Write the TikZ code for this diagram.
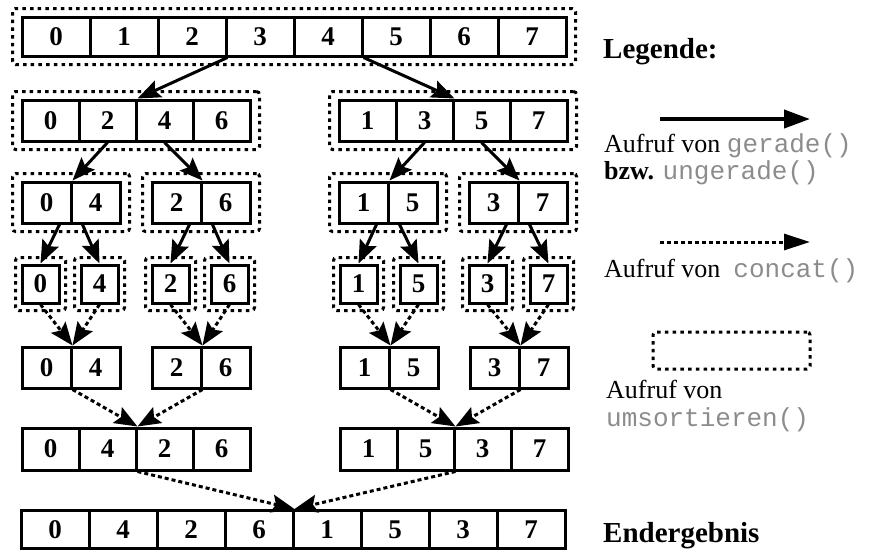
\documentclass[tikz,border=0pt]{standalone}
\usepackage{fontspec}
\setmainfont{Liberation Serif}
\setmonofont{Liberation Mono}
\usetikzlibrary{arrows.meta,fit,calc}
\definecolor{codegray}{RGB}{140,140,140}
\newcommand{\code}[1]{\textcolor{codegray}{\ttfamily #1}}

\begin{document}
\begin{tikzpicture}[
  x=1pt,y=-1pt,
  cell/.style={draw, line width=3pt, inner sep=0pt, font=\fontsize{27}{27}\selectfont\bfseries},
  frame/.style={draw, line width=3pt, dash pattern=on 3.5pt off 4.2pt, rounded corners=3pt, inner xsep=8pt, inner ysep=7pt},
  call/.style={-{Stealth[length=23pt,width=18pt,inset=4pt]}, line width=3pt},
  cat/.style={call, dash pattern=on 4pt off 3pt},
  lbl/.style={inner sep=0pt, anchor=base west, font=\fontsize{26}{27}\selectfont},
  head/.style={inner sep=0pt, anchor=base west, font=\fontsize{29}{30}\selectfont\bfseries}
]
\useasboundingbox (0,0) rectangle (871,550);

\foreach \d [count=\i from 0] in {0,...,7}
  \node[cell, minimum width=68pt, minimum height=39pt] (t\i) at (56+68*\i, 36.5) {\d};
\node[frame, fit=(t0)(t7)] (tf) {};

\foreach \d [count=\i from 0] in {0,2,4,6}
  \node[cell, minimum width=57pt, minimum height=41pt] (a\i) at (50.5+57*\i, 120.5) {\d};
\foreach \d [count=\i from 0] in {1,3,5,7}
  \node[cell, minimum width=57pt, minimum height=41pt] (b\i) at (367.5+57*\i, 120.5) {\d};
\node[frame, fit=(a0)(a3)] (af) {};
\node[frame, fit=(b0)(b3)] (bf) {};

\foreach \n/\x/\l/\r in {q1/22/0/4, q2/152/2/6, q3/339/1/5, q4/469/3/7} {
  \node[cell, minimum width=49pt, minimum height=41pt] (\n-l) at (\x+24.5, 202.5) {\l};
  \node[cell, minimum width=49pt, minimum height=41pt] (\n-r) at (\x+73.5, 202.5) {\r};
  \node[frame, fit=(\n-l)(\n-r)] (\n-f) {};
}

\foreach \n/\x in {0/40.5, 4/99.5, 2/170.5, 6/229.5, 1/358.5, 5/418.5, 3/487.5, 7/548.5} {
  \node[cell, minimum width=37pt, minimum height=38pt] (s\n) at (\x, 284) {\n};
  \node[frame, inner xsep=5pt, inner ysep=6pt, fit=(s\n)] (s\n-f) {};
}

\foreach \n/\x/\l/\r in {m1/22/0/4, m2/152/2/6, m3/340/1/5, m4/470/3/7} {
  \node[cell, minimum width=49pt, minimum height=41pt] (\n-l) at (\x+24.5, 367.5) {\l};
  \node[cell, minimum width=49pt, minimum height=41pt] (\n-r) at (\x+73.5, 367.5) {\r};
}

\foreach \d [count=\i from 0] in {0,4,2,6}
  \node[cell, minimum width=57pt, minimum height=42pt] (n1-\i) at (50.5+57*\i, 449) {\d};
\foreach \d [count=\i from 0] in {1,5,3,7}
  \node[cell, minimum width=57pt, minimum height=42pt] (n2-\i) at (368.5+57*\i, 449) {\d};

\foreach \d [count=\i from 0] in {0,4,2,6,1,5,3,7}
  \node[cell, minimum width=68pt, minimum height=38pt] (f\i) at (55+68*\i, 529.5) {\d};

\draw[call] (t2.south east) -- (a1.north east);
\draw[call] (t4.south east) -- (b1.north east);
\draw[call] (a1.south) -- (q1-l.north east); \draw[call] (a2.south) -- (q2-l.north east);
\draw[call] (b1.south) -- (q3-l.north east); \draw[call] (b2.south) -- (q4-l.north east);
\foreach \n/\u/\v in {q1/0/4, q2/2/6, q3/1/5, q4/3/7} {
  \draw[call] ($(\n-l.south west)!.75!(\n-l.south east)$) -- (s\u.north);
  \draw[call] ($(\n-r.south west)!.25!(\n-r.south east)$) -- (s\v.north);
}
\foreach \n/\u/\v in {m1/0/4, m2/2/6, m3/1/5, m4/3/7} {
  \draw[cat] (s\u.south) -- (\n-l.north east);
  \draw[cat] (s\v.south) -- (\n-l.north east);
}
\draw[cat] (m1-l.south east) -- (n1-1.north east); \draw[cat] (m2-l.south east) -- (n1-1.north east);
\draw[cat] (m3-l.south east) -- (n2-1.north east); \draw[cat] (m4-l.south east) -- (n2-1.north east);
\draw[cat] (n1-1.south east) -- (f3.north east); \draw[cat] (n2-1.south east) -- (f3.north east);

\node[head] (leg) at (603,58) {Legende:};
\coordinate (g1) at (660,119); \coordinate (g2) at (810,119);
\draw[line width=4pt, -{Triangle[length=26pt,width=18pt]}] (g1) -- (g2);
\node[lbl] (g1t) at (604,152) {Aufruf von \code{gerade()}};
\node[lbl] (g2t) at (604,179) {\textbf{bzw.} \code{ungerade()}};
\coordinate (c1) at (660,242); \coordinate (c2) at (810,242);
\draw[line width=3pt, dash pattern=on 4pt off 3pt, -{Triangle[length=26pt,width=16pt]}] (c1) -- (c2);
\node[lbl] (ct) at (604,277) {Aufruf von\ \ \code{concat()}};
\node[frame, minimum width=157pt, minimum height=37pt] (ubox) at (731.5,350.5) {};
\node[lbl] (u1t) at (606,398) {Aufruf von};
\node[lbl] (u2t) at (606,426) {\code{umsortieren()}};
\node[head] (end) at (603,542) {Endergebnis};
\end{tikzpicture}
\end{document}
